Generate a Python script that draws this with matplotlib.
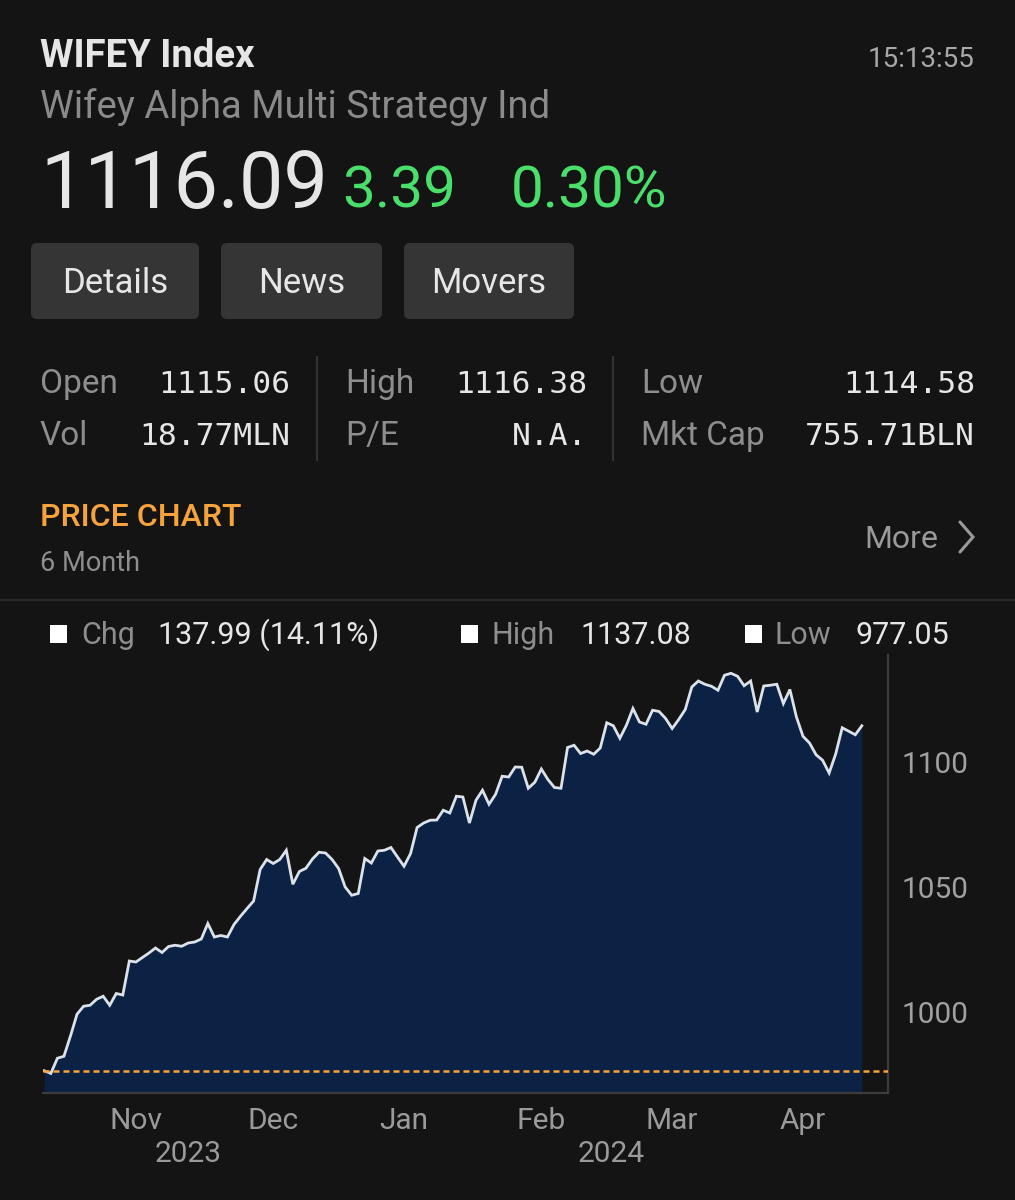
import numpy as np
import pandas as pd
import matplotlib
matplotlib.use("Agg")
import matplotlib.pyplot as plt
from matplotlib.patches import FancyBboxPatch, Rectangle
from matplotlib.transforms import ScaledTranslation

# ---- data ----
start_day = "2023-10-12"
end_day = "2024-04-12"
holidays = ["2023-11-23", "2023-12-25", "2024-01-01", "2024-01-15",
            "2024-02-19", "2024-03-29"]

closes = [978.10, 977.05, 983.1, 983.9, 992.0, 1000.7, 1003.9, 1004.3, 1006.7, 1007.9,
          1004.3, 1009.0, 1008.4, 1022.0, 1021.6, 1023.4, 1025.2, 1027.2, 1025.4, 1027.8,
          1028.3, 1027.9, 1029.2, 1029.6, 1030.8, 1037.0, 1031.6, 1032.2, 1031.6, 1036.6,
          1039.9, 1043.0, 1046.0, 1058.6, 1062.6, 1061.0, 1062.6, 1066.3, 1052.7, 1057.8,
          1059.1, 1062.8, 1065.5, 1065.2, 1062.6, 1059.0, 1051.6, 1048.3, 1049.0, 1063.0,
          1061.2, 1066.0, 1066.3, 1067.4, 1063.6, 1059.9, 1065.0, 1075.4, 1077.2, 1078.3,
          1078.4, 1082.3, 1081.2, 1087.9, 1087.6, 1077.2, 1086.3, 1090.3, 1084.7, 1088.7,
          1095.9, 1095.6, 1099.6, 1099.5, 1091.1, 1093.5, 1098.8, 1094.6, 1091.4, 1091.1,
          1107.4, 1108.3, 1105.0, 1106.0, 1104.7, 1107.2, 1117.3, 1116.1, 1111.1, 1116.3,
          1123.0, 1117.6, 1116.7, 1122.3, 1121.8, 1119.0, 1115.0, 1118.6, 1122.6, 1131.6,
          1134.0, 1132.7, 1131.9, 1130.3, 1136.3, 1137.08, 1135.9, 1132.1, 1134.0, 1121.6,
          1132.0, 1132.3, 1132.7, 1125.0, 1130.6, 1119.6, 1111.9, 1109.2, 1104.5, 1102.3,
          1097.2, 1104.8, 1115.3, 1113.9, 1112.5, 1116.09]

y_ticks = [1000, 1050, 1100]

title = "WIFEY Index"
subtitle = "Wifey Alpha Multi Strategy Ind"
clock = "15:13:55"
last_px = "1116.09"
net_chg = "3.39"
pct_chg = "0.30%"
buttons = ["Details", "News", "Movers"]
stat_labels = [["Open", "High", "Low"], ["Vol", "P/E", "Mkt Cap"]]
stat_values = [["1115.06", "1116.38", "1114.58"], ["18.77MLN", "N.A.", "755.71BLN"]]
legend_labels = ["Chg", "High", "Low"]
legend_values = ["137.99 (14.11%)", "1137.08", "977.05"]

dates = pd.bdate_range(start_day, end_day, freq="C", holidays=holidays)

BG = "#141414"
WHITE = "#e6e6e6"
GRAY = "#8e8e8e"
GREEN = "#4ade6b"
ORANGE = "#f5a33a"
NAVY = "#0b2244"
FONT = ["Roboto", "DejaVu Sans"]
MONO = ["DejaVu Sans Mono"]

plt.rcParams["font.family"] = FONT

fig = plt.figure(figsize=(10.15, 12), dpi=100, facecolor=BG)

# overlay in pixel coordinates for the app chrome
ov = fig.add_axes([0, 0, 1, 1], zorder=0)
ov.set_xlim(0, 1015)
ov.set_ylim(1200, 0)
ov.axis("off")
ov.set_facecolor("none")

ov.text(40, 67, title, color=WHITE, fontsize=27.5, fontweight="bold")
ov.text(975, 67, clock, color="#a8a8a8", fontsize=20, ha="right")
ov.text(40, 118, subtitle, color="#8a8a8a", fontsize=27.5)
ov.text(40, 208, last_px, color=WHITE, fontsize=57)
ov.text(342, 208, net_chg, color=GREEN, fontsize=42)
ov.text(511, 208, pct_chg, color=GREEN, fontsize=42)

btn_x = [(31, 199), (221, 382), (404, 574)]
for (x0, x1), name in zip(btn_x, buttons):
    ov.add_patch(FancyBboxPatch((x0, 243), x1 - x0, 76,
                                boxstyle="round,pad=0,rounding_size=6",
                                facecolor="#353535", edgecolor="none"))
    ov.text((x0 + x1) / 2, 293, name, color=WHITE, fontsize=25, ha="center")

label_x = [40, 345, 641]
value_right = [290, 587, 975]
for row, base in enumerate([393, 445]):
    for col in range(3):
        ov.text(label_x[col], base, stat_labels[row][col], color=GRAY, fontsize=24)
        ov.text(value_right[col], base, stat_values[row][col], color=WHITE,
                fontsize=22.5, ha="right", family=MONO)
for sx in [317, 613]:
    ov.plot([sx, sx], [357, 460], color="#333333", lw=1.5)

ov.text(40, 526, "PRICE CHART", color=ORANGE, fontsize=23, fontweight="medium")
ov.text(40, 571, "6 Month", color=GRAY, fontsize=19.5)
ov.text(938, 548, "More", color="#9a9a9a", fontsize=23, ha="right")
ov.plot([960, 973, 960], [522, 537, 552], color="#9a9a9a", lw=2.2,
        solid_capstyle="round", solid_joinstyle="miter")
ov.plot([0, 1015], [600, 600], color="#292929", lw=1.5)

sq_x = [50, 461, 745]
lab_x = [81, 492, 775]
val_x = [158, 580, 856]
for i in range(3):
    ov.add_patch(Rectangle((sq_x[i], 625), 17, 18, facecolor="white", edgecolor="none"))
    ov.text(lab_x[i], 644, legend_labels[i], color=GRAY, fontsize=22)
    ov.text(val_x[i], 644, legend_values[i], color=WHITE, fontsize=22)

# ---- price chart ----
W, H = 1015, 1200
ax = fig.add_axes([43 / W, 1 - 1093 / H, (888 - 43) / W, (1093 - 655) / H], zorder=1)
ax.set_facecolor("none")
x = np.arange(len(dates))
ymin, ymax = 969.2, 1144.4
ax.fill_between(x, closes, ymin, color=NAVY, lw=0)
ax.plot(x, closes, color="#dbe2ea", lw=2.0, solid_joinstyle="miter")
ax.axhline(closes[0], color=ORANGE, lw=1.8, ls=(0, (2.4, 1.6)), zorder=5)
ax.set_xlim(-0.2, 129)
ax.set_ylim(ymin, ymax)

for s in ["top", "left"]:
    ax.spines[s].set_visible(False)
for s in ["right", "bottom"]:
    ax.spines[s].set_color("#3c3c3c")
    ax.spines[s].set_linewidth(1.6)

ax.yaxis.tick_right()
ax.set_yticks(y_ticks)
ax.set_yticklabels([str(v) for v in y_ticks])
ax.tick_params(axis="y", length=0, pad=10, labelsize=21.5, labelcolor="#a0a0a0")
off = ScaledTranslation(0, 3 / 72, fig.dpi_scale_trans)
for lbl in ax.get_yticklabels():
    lbl.set_transform(lbl.get_transform() + off)

month_pos = [i for i in range(1, len(dates)) if dates[i].month != dates[i - 1].month]
ax.set_xticks(month_pos)
ax.set_xticklabels([dates[i].strftime("%b") for i in month_pos])
ax.tick_params(axis="x", length=0, pad=10, labelsize=21.5, labelcolor="#9a9a9a")

ov.text(188, 1162, "2023", color="#9a9a9a", fontsize=21.5, ha="center")
ov.text(611, 1162, "2024", color="#9a9a9a", fontsize=21.5, ha="center")

fig.savefig("out.png", dpi=100, facecolor=BG)
